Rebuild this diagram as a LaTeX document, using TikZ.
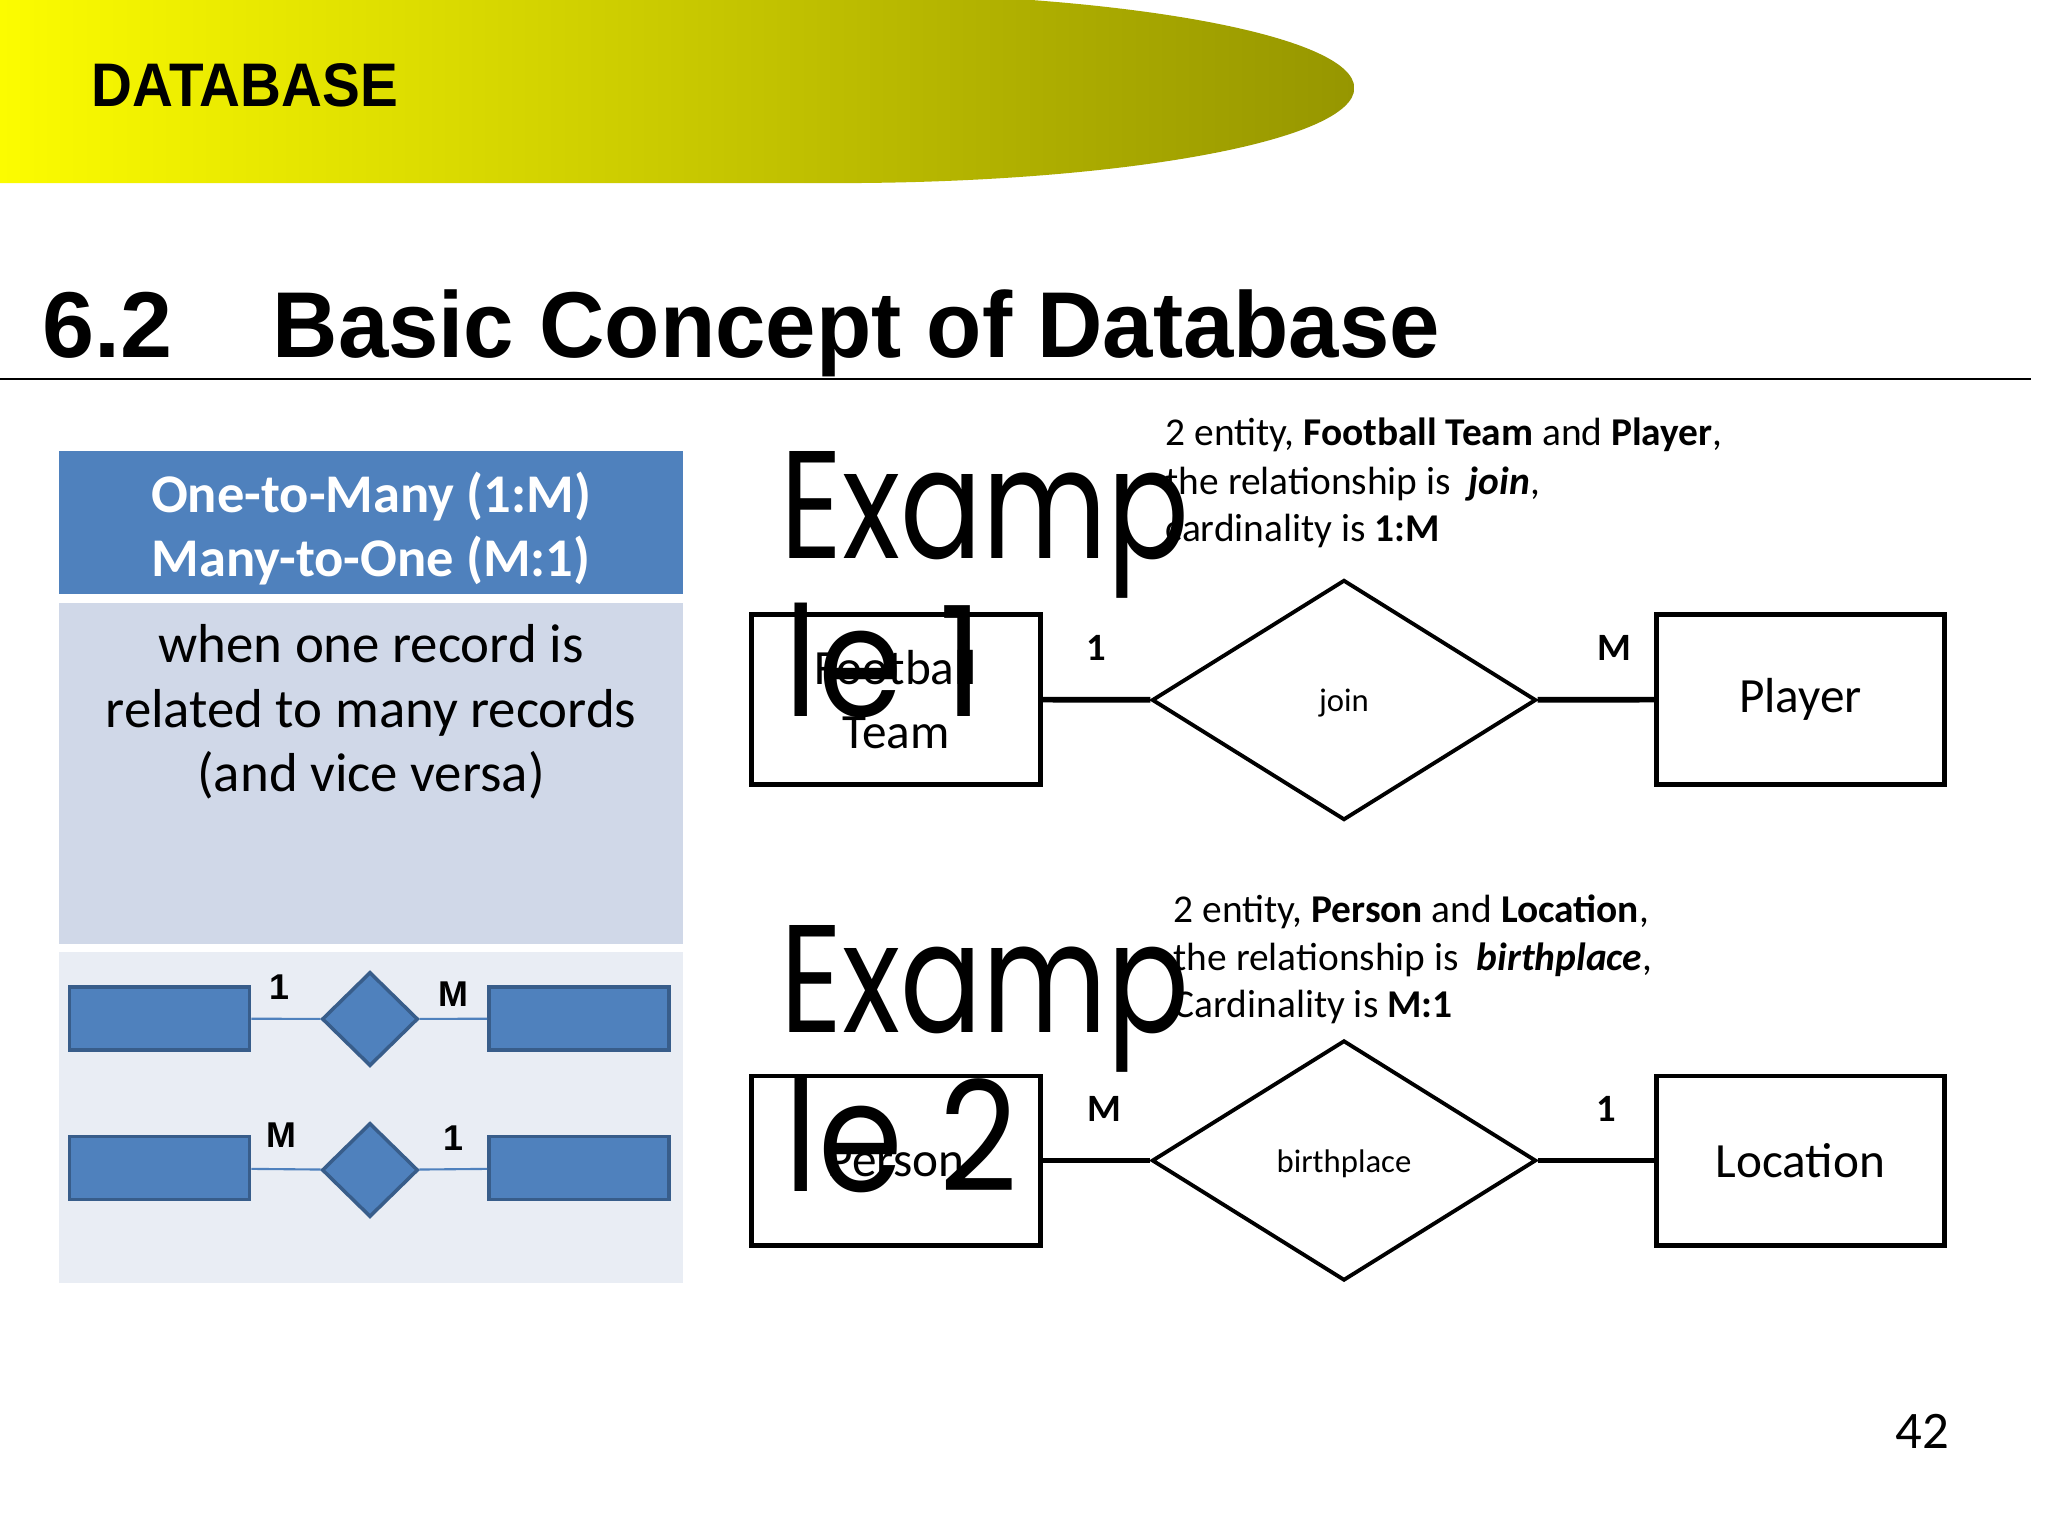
\documentclass[tikz,border=0pt]{standalone}
\usepackage{fontspec}
\setmainfont{Carlito}
\newfontfamily\arialfont{Liberation Sans}
\newfontfamily\handfont{Poppins}
\usetikzlibrary{shapes.geometric, positioning}

\definecolor{slideyellow}{RGB}{252,252,0}
\definecolor{slidemid}{RGB}{218,218,0}
\definecolor{slideolive}{RGB}{150,150,0}
\definecolor{panelblue}{RGB}{79,129,189}
\definecolor{paneledge}{RGB}{56,93,138}
\definecolor{panelmid}{RGB}{208,216,232}
\definecolor{panellow}{RGB}{233,237,244}

\begin{document}
\begin{tikzpicture}[x=0.01cm, y=-0.01cm,
    entity/.style={draw=black, line width=1.4pt, minimum width=2.88cm, minimum height=1.69cm, align=center, inner sep=0pt, font=\fontsize{14}{18}\selectfont},
    relation/.style={diamond, draw=black, line width=1.1pt, minimum width=3.84cm, minimum height=2.4cm, inner sep=0pt, text height=8.6pt, text depth=2pt, font=\fontsize{9.3}{11}\selectfont},
    minibox/.style={draw=paneledge, line width=1pt, fill=panelblue, minimum width=1.8cm, minimum height=0.63cm, inner sep=0pt},
    minidia/.style={diamond, draw=paneledge, line width=1pt, fill=panelblue, minimum width=0.96cm, minimum height=0.94cm, inner sep=0pt},
    card/.style={font=\fontsize{11}{13}\selectfont\bfseries},
    minicard/.style={font=\arialfont\fontsize{10.2}{12}\selectfont\bfseries},
    info/.style={anchor=base west, inner sep=0pt, font=\fontsize{11.2}{13.4}\selectfont},
    bigtext/.style={anchor=base west, inner sep=0pt, font=\handfont\fontsize{43.6}{45}\selectfont},
    link/.style={line width=1.6pt},
    minilink/.style={draw=panelblue, line width=0.6pt}
]
    \useasboundingbox[fill=white] (0,0) rectangle (2048,1536);

    % header band
    \shade[left color=slideyellow, middle color=slidemid, right color=slideolive]
        (0,-7) -- (836,-7) arc[start angle=90, end angle=-90, x radius=5.18cm, y radius=0.95cm] -- (0,183) -- cycle;
    \node[anchor=base west, inner sep=0pt, font=\arialfont\fontsize{17.5}{20}\selectfont\bfseries] (band) at (91,106) {\scalebox{0.92}[1]{DATABASE}};

    % title
    \node[anchor=base west, inner sep=0pt, font=\arialfont\fontsize{26.6}{30}\selectfont\bfseries] (secno) at (42,357) {6.2};
    \node[anchor=base west, inner sep=0pt, font=\arialfont\fontsize{26.6}{30}\selectfont\bfseries] (title) at (272,357) {\scalebox{0.968}[1]{Basic Concept of Database}};
    \draw[line width=0.7pt] (0,379) -- (2031,379);

    % left card
    \fill[panelblue] (59,451) rectangle (683,594);
    \node[text=white, align=center, font=\fontsize{15.5}{18.3}\selectfont\bfseries] (cardhead) at (371,528.5) {One-to-Many (1:M)\\Many-to-One (M:1)};
    \fill[panelmid] (59,603) rectangle (683,944);
    \node[align=center, font=\fontsize{15.6}{18.3}\selectfont] (carddesc) at (371,712) {when one record is\\related to many records\\(and vice versa)};
    \fill[panellow] (59,952) rectangle (683,1283);

    \node[minibox] (mleft1) at (159.5,1018.5) {};
    \node[minidia] (mdia1) at (370,1019) {};
    \node[minibox] (mright1) at (579,1018.5) {};
    \draw[minilink] (mleft1) -- (mdia1);
    \draw[minilink] (mdia1) -- (mright1);
    \node[minicard] (mc1a) at (279,987) {1};
    \node[minicard] (mc1b) at (453,994) {M};

    \node[minibox] (mleft2) at (159.5,1168) {};
    \node[minidia] (mdia2) at (370,1170) {};
    \node[minibox] (mright2) at (579,1168) {};
    \draw[minilink] (mleft2) -- (mdia2);
    \draw[minilink] (mdia2) -- (mright2);
    \node[minicard] (mc2a) at (281,1135) {M};
    \node[minicard] (mc2b) at (453,1138) {1};

    % example 1
    \node[info] (info1a) at (1165,445) {2 entity, \textbf{Football Team} and \textbf{Player},};
    \node[info] (info1b) at (1165,494) {the relationship is \ \textbf{\textit{join}},};
    \node[info] (info1c) at (1165,541) {cardinality is \textbf{1:M}};

    \node[entity] (ftteam) at (896,699.5) {Football\\Team};
    \node[relation] (join) at (1344,700) {join};
    \node[entity] (player) at (1800.5,699.5) {Player};
    \draw[link] (ftteam) -- (join);
    \draw[link] (join) -- (player);
    \node[card] (c1a) at (1096,648) {1};
    \node[card] (c1b) at (1614,648) {M};

    % example 2
    \node[info] (info2a) at (1173,922) {2 entity, \textbf{Person} and \textbf{Location},};
    \node[info] (info2b) at (1173,970) {the relationship is \ \textbf{\textit{birthplace}},};
    \node[info] (info2c) at (1173,1017) {Cardinality is \textbf{M:1}};

    \node[entity] (person) at (896,1160.5) {Person};
    \node[relation] (birth) at (1344,1160.5) {birthplace};
    \node[entity] (location) at (1800.5,1160.5) {Location};
    \draw[link] (person) -- (birth);
    \draw[link] (birth) -- (location);
    \node[card] (c2a) at (1104,1109) {M};
    \node[card] (c2b) at (1606,1109) {1};

    % big example titles over everything
    \node[bigtext] (ex1top) at (780,558) {\scalebox{0.79}[1]{Examp}};
    \node[bigtext] (ex1bot) at (784,716) {\scalebox{0.89}[1]{le 1}};
    \node[bigtext] (ex2top) at (780,1032) {\scalebox{0.79}[1]{Examp}};
    \node[bigtext] (ex2bot) at (784,1191) {\scalebox{0.89}[1]{le 2}};

    \node[anchor=base west, inner sep=0pt, font=\fontsize{15}{18}\selectfont] (pageno) at (1895,1448) {42};
\end{tikzpicture}
\end{document}
